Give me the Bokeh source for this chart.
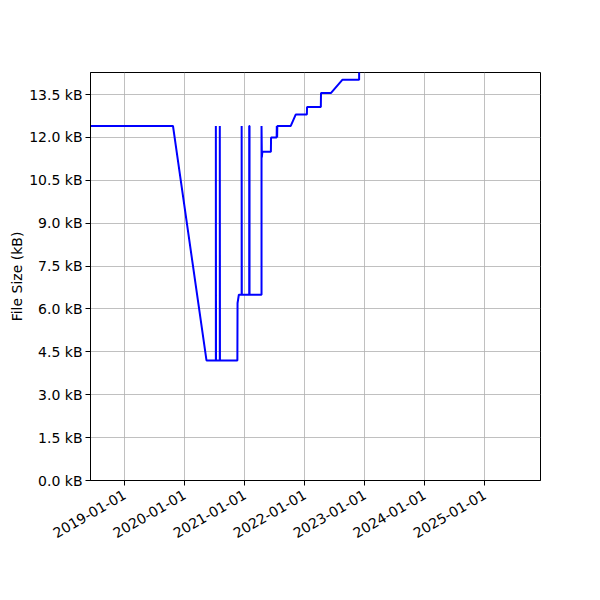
from datetime import datetime
from bokeh.plotting import figure
from bokeh.models import Range1d, FixedTicker, DatetimeTickFormatter, PrintfTickFormatter, ColumnDataSource
from bokeh.embed import file_html
from bokeh.resources import INLINE
import math

# ---- data ----
dates = [
    "2018-06-06", "2019-10-21", "2020-05-12",
    "2020-07-08", "2020-07-08", "2020-07-09",
    "2020-08-01", "2020-08-01", "2020-08-02",
    "2020-11-16", "2020-11-17", "2020-11-25",
    "2020-12-12", "2020-12-12", "2020-12-13",
    "2021-01-27", "2021-01-27", "2021-01-29", "2021-01-29",
    "2021-04-12", "2021-04-12", "2021-04-14", "2021-04-17",
    "2021-06-08", "2021-06-09",
    "2021-07-13", "2021-07-14", "2021-07-16", "2021-07-17",
    "2021-10-07", "2021-11-06",
    "2022-01-13", "2022-01-14",
    "2022-04-08", "2022-04-09",
    "2022-06-08", "2022-08-18",
    "2022-11-27", "2022-11-28",
]
sizes_kb = [
    12.4, 12.4, 4.2,
    4.2, 12.4, 4.2,
    4.2, 12.4, 4.2,
    4.2, 6.2, 6.5,
    6.5, 12.4, 6.5,
    6.5, 12.4, 12.4, 6.5,
    6.5, 12.4, 11.3, 11.5,
    11.5, 12.0,
    12.0, 12.4, 12.0, 12.4,
    12.4, 12.8,
    12.8, 13.06,
    13.06, 13.55,
    13.55, 14.02,
    14.02, 16.0,
]
x_start, x_end = "2018-06-06", "2025-12-05"
y_max = 14.27
y_ticks = [0.0, 1.5, 3.0, 4.5, 6.0, 7.5, 9.0, 10.5, 12.0, 13.5]
x_tick_labels = ["2019-01-01", "2020-01-01", "2021-01-01", "2022-01-01",
                 "2023-01-01", "2024-01-01", "2025-01-01"]

def to_dt(s):
    return datetime.strptime(s, "%Y-%m-%d")

def to_ms(s):
    return (to_dt(s) - datetime(1970, 1, 1)).total_seconds() * 1000.0

src = ColumnDataSource(dict(x=[to_dt(d) for d in dates], y=sizes_kb))

FONT = "DejaVu Sans"
p = figure(width=600, height=600, x_axis_type="datetime",
           output_backend="svg", toolbar_location=None,
           x_range=Range1d(to_dt(x_start), to_dt(x_end)),
           y_range=Range1d(0, y_max),
           min_border_left=90, min_border_top=72,
           min_border_right=60, min_border_bottom=120)

p.line("x", "y", source=src, line_color="#0000ff", line_width=2)

p.xaxis.ticker = FixedTicker(ticks=[to_ms(t) for t in x_tick_labels])
p.xaxis.formatter = DatetimeTickFormatter(
    years="%Y-%m-%d", months="%Y-%m-%d", days="%Y-%m-%d")
p.xaxis.major_label_orientation = math.pi / 6

p.yaxis.ticker = FixedTicker(ticks=y_ticks)
p.yaxis.formatter = PrintfTickFormatter(format="%.1f kB")
p.yaxis.axis_label = "File Size (kB)"

for ax in (p.xaxis, p.yaxis):
    ax.major_label_text_font = FONT
    ax.major_label_text_font_size = "14px"
    ax.major_label_text_color = "black"
    ax.axis_label_text_font = FONT
    ax.axis_label_text_font_size = "14px"
    ax.axis_label_text_font_style = "normal"
    ax.axis_label_text_color = "black"
    ax.axis_line_color = "black"
    ax.major_tick_line_color = "black"
    ax.major_tick_out = 5
    ax.major_tick_in = 0
    ax.minor_tick_line_color = None

p.yaxis.major_label_standoff = 3
p.xaxis.major_label_standoff = 8
p.yaxis.axis_label_standoff = 1

p.grid.grid_line_color = "#b0b0b0"
p.grid.grid_line_width = 0.8
p.outline_line_color = "black"
p.outline_line_alpha = 1
p.outline_line_width = 1
p.background_fill_color = "white"
p.border_fill_color = "white"

open("out.html", "w").write(file_html(p, INLINE))
